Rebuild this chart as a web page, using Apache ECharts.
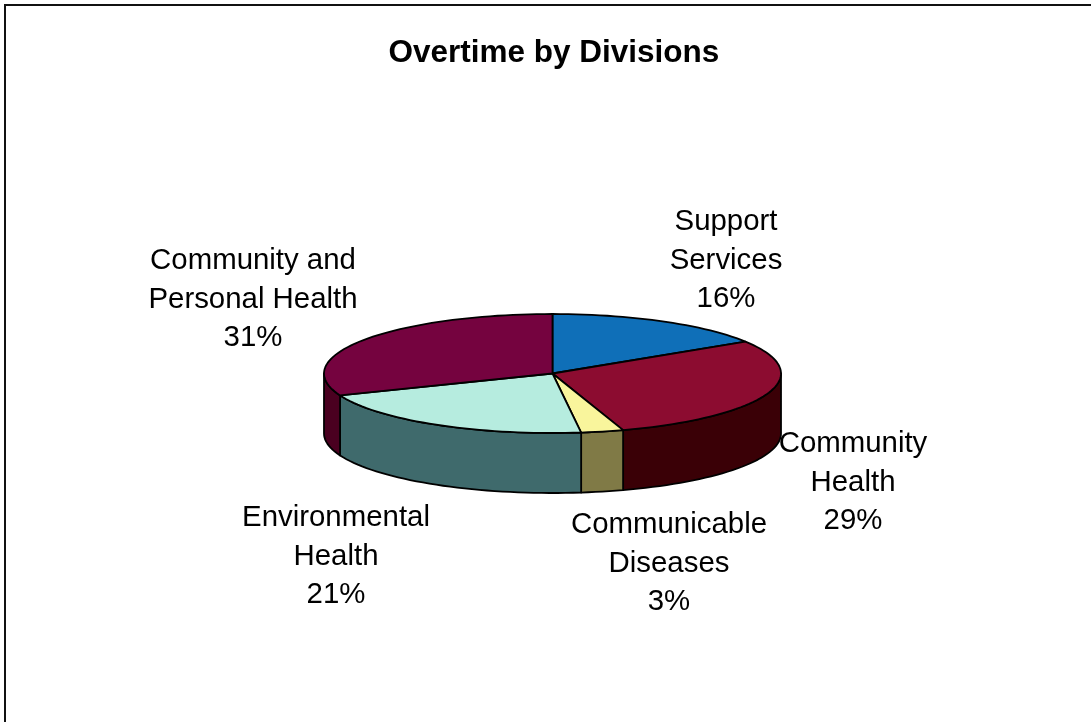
<!DOCTYPE html>
<html>
<head>
<meta charset="utf-8">
<style>html,body{margin:0;padding:0;background:#fff}#chart{width:1091px;height:722px}</style>
<script src="https://cdn.jsdelivr.net/npm/echarts@6/dist/echarts.min.js"></script>
</head>
<body>
<div id="chart"></div>
<script>
// Divisions, clockwise from twelve o'clock
const categories = ['Support\nServices', 'Community\nHealth', 'Communicable\nDiseases', 'Environmental\nHealth', 'Community and\nPersonal Health'];
const shares = [16, 29, 3, 21, 31];
const topColors = ['#0f6fb8', '#8c0c30', '#f9f59c', '#b6ecdf', '#75033f'];
const sideColors = ['#0a4a7a', '#3a0006', '#807a46', '#3f6a6c', '#4a0020'];
const labelTops = [[726, 203], [853, 425], [669, 506], [336, 499], [253, 242]];

// Tilted disc geometry
const disc = { cx: 552.5, cy: 373.5, rx: 228.5, ry: 59.5, depth: 60 };
const total = shares.reduce((a, b) => a + b, 0);

function rimPoint(deg, drop) {
  const r = deg * Math.PI / 180;
  return [disc.cx + disc.rx * Math.sin(r), disc.cy - disc.ry * Math.cos(r) + drop];
}
function rimArc(from, to, drop) {
  const steps = Math.max(2, Math.ceil(Math.abs(to - from) / 2));
  const pts = [];
  for (let i = 0; i <= steps; i++) pts.push(rimPoint(from + (to - from) * i / steps, drop));
  return pts;
}
const edge = { stroke: '#000', lineWidth: 1.8, lineJoin: 'round' };

function renderSlice(params, api) {
  const i = params.dataIndex;
  const start = shares.slice(0, i).reduce((a, b) => a + b, 0) / total * 360;
  const end = start + api.value(0) / total * 360;
  const children = [];

  // Only the near half of the wall (90 to 270 degrees) faces the viewer
  const a = Math.max(start, 90), b = Math.min(end, 270);
  if (b > a) {
    const wall = rimArc(a, b, 0).concat(rimArc(b, a, disc.depth));
    children.push({ type: 'polygon', shape: { points: wall }, style: Object.assign({ fill: sideColors[i] }, edge) });
  }
  const top = [[disc.cx, disc.cy]].concat(rimArc(start, end, 0));
  children.push({ type: 'polygon', shape: { points: top }, style: Object.assign({ fill: topColors[i] }, edge) });
  return { type: 'group', children };
}

const chart = echarts.init(document.getElementById('chart'), null, { renderer: 'canvas' });
chart.setOption({
  animation: false,
  backgroundColor: '#fff',
  title: {
    text: 'Overtime by Divisions',
    left: 383.5, top: 32,
    textStyle: { fontFamily: 'Liberation Sans', fontSize: 31.5, fontWeight: 'bold', color: '#000' }
  },
  graphic: [
    { type: 'polyline', z: 1, shape: { points: [[5, 722], [5, 5], [1091, 5]] }, style: { stroke: '#111', lineWidth: 2, fill: null }, silent: true }
  ].concat(categories.map((c, i) => ({
    type: 'text', x: labelTops[i][0], y: labelTops[i][1], z: 1, silent: true,
    style: {
      text: c + '\n' + shares[i] + '%',
      x: 0, y: 0, align: 'center', verticalAlign: 'top',
      fontFamily: 'Liberation Sans', fontSize: 29.4, lineHeight: 38.5, fill: '#000'
    }
  }))),
  series: [{
    type: 'custom',
    coordinateSystem: 'none',
    z: 5,
    renderItem: renderSlice,
    data: shares.map(v => [v]),
    silent: true
  }]
});
</script>
</body>
</html>
